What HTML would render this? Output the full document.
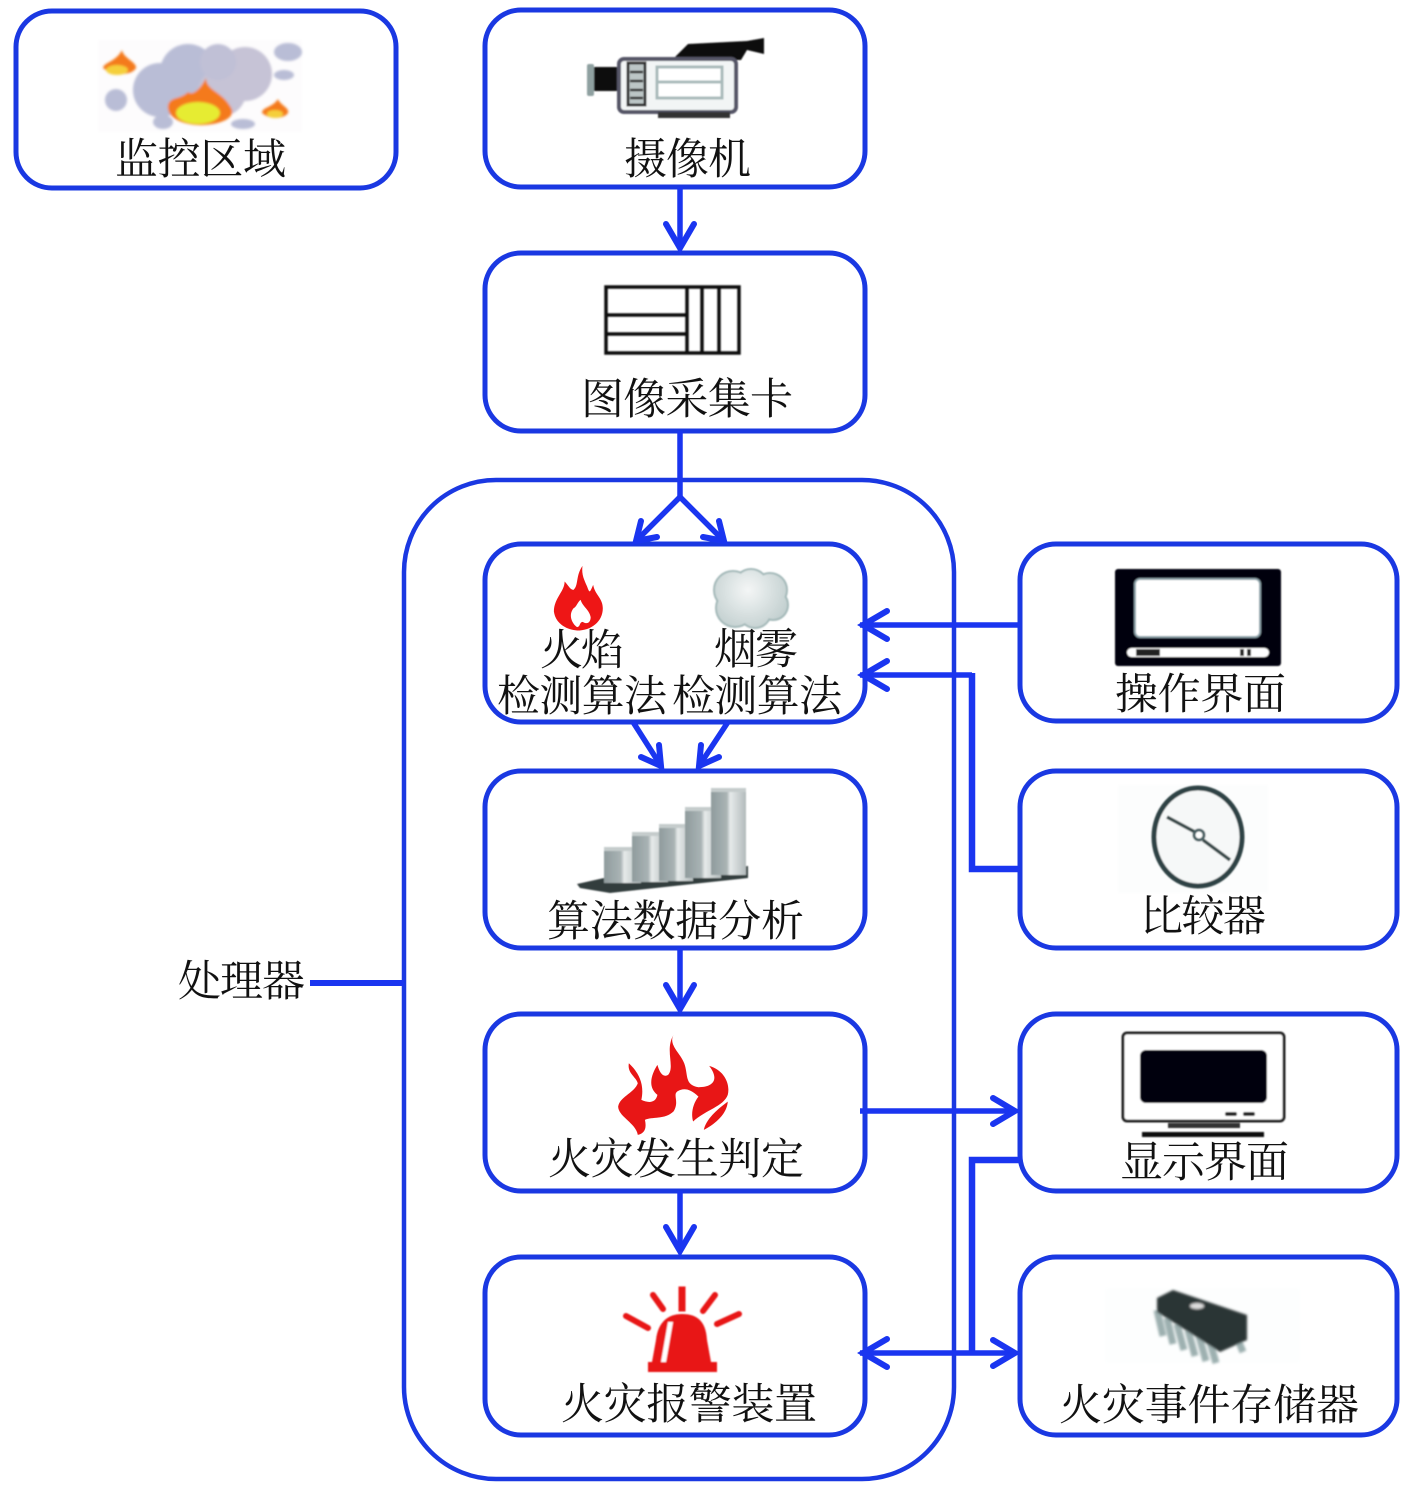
<!DOCTYPE html>
<html lang="zh">
<head>
<meta charset="utf-8">
<style>
html,body{margin:0;padding:0;background:#fff;width:1415px;height:1491px;overflow:hidden}
svg{display:block}
text{font-family:"Liberation Serif","Noto Serif CJK SC",serif;font-size:43px;fill:#111}
.b{fill:none;stroke:#1a38e2;stroke-width:5}
.o{fill:none;stroke:#1a38e2;stroke-width:4.5}
.l{fill:none;stroke:#1a35f0;stroke-width:5.5}
.t{fill:none;stroke:#1a35f0;stroke-width:6.5}
.h{fill:none;stroke:#1a35f0;stroke-width:6;stroke-linecap:round;stroke-linejoin:miter}
</style>
</head>
<body>
<svg width="1415" height="1491" viewBox="0 0 1415 1491" xmlns="http://www.w3.org/2000/svg">
<defs>
<filter id="s" x="-10%" y="-10%" width="120%" height="120%"><feGaussianBlur stdDeviation="0.7"/></filter>
<filter id="m" x="-20%" y="-20%" width="140%" height="140%"><feGaussianBlur stdDeviation="1.3"/></filter>
<linearGradient id="bar" x1="0" x2="1" y1="0" y2="0"><stop offset="0" stop-color="#8f9b9d"/><stop offset=".45" stop-color="#a9b3b4"/><stop offset=".55" stop-color="#e6eaea"/><stop offset="1" stop-color="#b2babb"/></linearGradient>
<radialGradient id="cl" gradientUnits="userSpaceOnUse" cx="748" cy="590" r="42"><stop offset="0" stop-color="#f4f6f6"/><stop offset="1" stop-color="#c3d0d0"/></radialGradient>
</defs>

<!-- boxes -->
<rect class="b" x="16" y="11" width="380" height="177" rx="36"/>
<rect class="b" x="485" y="10" width="380" height="177" rx="36"/>
<rect class="b" x="485" y="253" width="380" height="178" rx="36"/>
<rect class="o" x="404" y="480" width="550" height="999" rx="92"/>
<rect class="b" x="485" y="544" width="380" height="178" rx="36"/>
<rect class="b" x="485" y="771" width="380" height="177" rx="36"/>
<rect class="b" x="485" y="1014" width="380" height="177" rx="36"/>
<rect class="b" x="485" y="1257" width="380" height="178" rx="36"/>
<rect class="b" x="1020" y="544" width="377" height="177" rx="36"/>
<rect class="b" x="1020" y="771" width="377" height="177" rx="36"/>
<rect class="b" x="1020" y="1014" width="377" height="177" rx="36"/>
<rect class="b" x="1020" y="1257" width="377" height="178" rx="36"/>

<!-- connectors -->
<path class="l" d="M680 187V248"/>
<path class="h" d="M666 224L680 248L694 224"/>
<path class="l" d="M680 431V497"/>
<path class="l" d="M680 497L636 541M680 497L724 541"/>
<path class="h" d="M641 521L636 541L657 537M719 521L724 541L703 537"/>
<path class="l" d="M633 722L661 766M728 722L699 766"/>
<path class="h" d="M659 745L661 766L641 757M701 745L699 766L719 757"/>
<path class="l" d="M680 948V1009"/>
<path class="h" d="M666 985L680 1009L694 985"/>
<path class="l" d="M680 1191V1251"/>
<path class="h" d="M666 1227L680 1251L694 1227"/>
<path class="l" d="M860 625H1020"/>
<path class="h" d="M887 611L863 625L887 639"/>
<path class="l" d="M860 675H972"/>
<path class="h" d="M887 661L863 675L887 689"/>
<path class="t" d="M972 673V869H1020"/>
<path class="l" d="M860 1111H1014"/>
<path class="h" d="M993 1098L1015 1111L993 1124"/>
<path class="t" d="M1020 1160H972V1353"/>
<path class="l" d="M860 1353H1014"/>
<path class="h" d="M887 1339L863 1353L887 1367M993 1340L1015 1353L993 1366"/>
<path class="l" d="M310 983H404" style="stroke-width:6"/>

<!-- 监控区域 icon -->
<rect x="98" y="40" width="204" height="92" fill="#fdfcfd" filter="url(#m)"/>
<g filter="url(#m)">
<g fill="#b9bdd6">
<circle cx="188" cy="72" r="28"/><circle cx="160" cy="90" r="27"/><circle cx="195" cy="100" r="24"/>
<circle cx="245" cy="74" r="27" fill="#c6c3d6"/><circle cx="222" cy="92" r="24" fill="#c6c3d6"/>
<circle cx="218" cy="62" r="18" fill="#c0c0d6"/>
<ellipse cx="288" cy="52" rx="14" ry="9"/><ellipse cx="284" cy="75" rx="10" ry="5"/><ellipse cx="116" cy="100" rx="11" ry="11"/><circle cx="147" cy="107" r="3.5"/><ellipse cx="163" cy="122" rx="10" ry="7"/><ellipse cx="243" cy="124" rx="12" ry="5"/>
</g>
<path fill="#f47a1c" d="M206 78C206 90 222 92 230 106C238 116 224 124 204 125C184 126 166 118 168 105C171 96 180 100 188 92C192 96 200 90 206 78Z"/>
<ellipse cx="198" cy="113" rx="22" ry="11" fill="#e6ec30"/>
<path fill="#f47a1c" d="M122 50C123 58 137 62 136 68C132 76 112 76 103 68C104 62 116 62 122 50Z"/>
<ellipse cx="117" cy="70" rx="11" ry="5" fill="#f5cf3a"/>
<path fill="#f47a1c" d="M278 99C280 105 290 108 288 113C284 119 270 120 262 113C262 107 272 108 278 99Z"/>
<ellipse cx="275" cy="114" rx="8" ry="4" fill="#f5cf3a"/>
</g>

<!-- 摄像机 icon -->
<g filter="url(#s)">
<path fill="#111" d="M674 58L688 44L747 41L764 38V54L747 50L741 60H676Z"/>
<rect x="587" y="64" width="7" height="32" rx="2" fill="#8fa0a0"/>
<rect x="594" y="67" width="24" height="24" fill="#111"/>
<rect x="619" y="59" width="117" height="53" rx="5" fill="#f2f5f5" stroke="#556" stroke-width="4"/>
<rect x="628" y="63" width="17" height="42" fill="#bcc6c6" stroke="#333" stroke-width="3"/>
<path d="M630 72H643M630 81H643M630 90H643M630 98H643" stroke="#333" stroke-width="2.5"/>
<rect x="657" y="67" width="65" height="31" fill="#fff" stroke="#a8baba" stroke-width="3"/>
<path d="M657 82H722" stroke="#a8baba" stroke-width="3"/>
<rect x="658" y="112" width="72" height="6" fill="#333"/>
</g>

<!-- 图像采集卡 icon -->
<g fill="none" stroke="#111" stroke-width="3.5" filter="url(#s)">
<rect x="606" y="287" width="133" height="66"/>
<path d="M606 315H688M606 334H688M687 287V353M702 287V353M719 287V353"/>
</g>

<!-- 火焰 icon -->
<g transform="translate(470,470) scale(.357,.333)" filter="url(#s)">
<path fill="#ee1818" d="M315 288C295 320 305 345 290 360C280 360 275 345 265 335C265 365 235 385 235 425C240 465 275 480 300 482C340 482 372 455 372 415C372 385 350 375 345 345C335 370 335 370 328 350C320 330 312 315 315 288Z"/>
<path fill="#fff" d="M300 472C285 460 275 435 290 415C298 412 302 395 310 390C315 410 335 420 338 442C338 458 328 465 316 456C306 456 310 470 300 472Z"/>
</g>
<!-- 烟雾 icon -->
<g filter="url(#s)">
<g fill="#c6d3d3" stroke="#a5baba" stroke-width="4">
<circle cx="733" cy="590" r="18"/><circle cx="751" cy="586" r="16"/><circle cx="770" cy="590" r="16"/><circle cx="773" cy="605" r="14"/><circle cx="755" cy="612" r="15"/><circle cx="735" cy="608" r="18"/>
</g>
<g fill="url(#cl)">
<circle cx="733" cy="590" r="18"/><circle cx="751" cy="586" r="16"/><circle cx="770" cy="590" r="16"/><circle cx="773" cy="605" r="14"/><circle cx="755" cy="612" r="15"/><circle cx="735" cy="608" r="18"/><circle cx="752" cy="600" r="18"/>
</g>
</g>

<!-- 操作界面 icon -->
<g filter="url(#s)">
<rect x="1115" y="569" width="166" height="97" rx="3" fill="#05050f"/>
<rect x="1135" y="579" width="125" height="58" rx="5" fill="#fff" stroke="#8aa0a8" stroke-width="2"/>
<rect x="1127" y="648" width="142" height="9" rx="4.5" fill="#fff"/>
<rect x="1136" y="649" width="24" height="7" fill="#222"/>
<rect x="1240" y="649" width="4" height="7" fill="#222"/><rect x="1247" y="649" width="4" height="7" fill="#222"/>
</g>

<!-- 比较器 icon -->
<rect x="1118" y="785" width="150" height="108" fill="#fcfdfd" filter="url(#m)"/>
<g filter="url(#s)">
<ellipse cx="1198" cy="837" rx="44" ry="49" fill="#f6f8f8" stroke="#2f4245" stroke-width="5"/>
<path d="M1167 817L1195 832M1203 840L1230 860" stroke="#37484a" stroke-width="3.5" fill="none"/>
<circle cx="1199" cy="835" r="5" fill="#fff" stroke="#4a6064" stroke-width="3"/>
</g>

<!-- 算法数据分析 icon -->
<g filter="url(#s)">
<path fill="#333d3d" d="M577 884L604 878L748 866V878L610 893L580 888Z"/>
<rect x="604" y="847" width="37" height="36" fill="url(#bar)"/>
<rect x="604" y="847" width="37" height="4" fill="#c5cccc"/>
<rect x="632" y="832" width="36" height="50" fill="url(#bar)"/>
<rect x="632" y="832" width="36" height="4" fill="#c5cccc"/>
<rect x="659" y="824" width="34" height="57" fill="url(#bar)"/>
<rect x="659" y="824" width="34" height="4" fill="#c5cccc"/>
<rect x="685" y="807" width="36" height="71" fill="url(#bar)"/>
<rect x="685" y="807" width="36" height="4" fill="#c5cccc"/>
<rect x="711" y="788" width="35" height="87" fill="url(#bar)"/>
<rect x="711" y="788" width="35" height="4" fill="#c5cccc"/>
</g>

<!-- 火灾发生判定 icon -->
<g filter="url(#s)" fill="#e81414" transform="translate(470,1000) scale(.357,.333)">
<path d="M570 105C555 135 590 160 600 190C612 225 600 255 640 262C680 262 700 240 670 198C710 210 730 250 722 285C710 320 660 330 625 365C618 340 625 310 640 290C620 270 605 265 590 270C560 280 590 300 570 335C545 360 510 350 490 360C495 385 490 400 470 405C465 370 415 350 415 320C420 290 460 280 470 250C465 230 440 220 445 190C470 215 490 250 480 300C500 310 520 310 525 285C495 260 510 220 525 195C530 215 540 235 555 225C575 200 545 150 570 105Z"/>
<path d="M722 305C720 340 690 370 655 390C660 360 690 330 722 305Z"/>
</g>

<!-- 火灾报警装置 icon -->
<g filter="url(#s)" fill="#e81414">
<path d="M656 1340C658 1322 668 1314 682 1314C698 1314 706 1322 707 1340L711 1362H717V1372H648V1362H652Z"/>
<path d="M668 1322L661 1362H666L673 1322Z" fill="#fff"/>
<path d="M680 1288H684V1310H680Z" stroke="#e81414" stroke-width="3"/>
<path d="M653 1295L663 1309M715 1295L703 1311M626 1316L648 1328M739 1314L717 1324" stroke="#e81414" stroke-width="6" stroke-linecap="round" fill="none"/>
</g>

<!-- 显示界面 icon -->
<g filter="url(#s)">
<rect x="1123" y="1033" width="161" height="88" rx="4" fill="#fff" stroke="#222" stroke-width="3"/>
<rect x="1140" y="1050" width="127" height="53" rx="6" fill="#04040f"/>
<rect x="1225" y="1112" width="12" height="4" rx="2" fill="#222"/><rect x="1243" y="1112" width="12" height="4" rx="2" fill="#222"/>
<rect x="1168" y="1123" width="72" height="5" fill="#333"/>
<rect x="1142" y="1132" width="122" height="5" fill="#111"/>
</g>

<!-- 火灾事件存储器 icon -->
<rect x="1105" y="1288" width="195" height="75" fill="#fdfefe" filter="url(#m)"/>
<g filter="url(#m)">
<path d="M1157 1310L1163 1336M1167 1318L1173 1344M1177 1324L1184 1350M1188 1330L1195 1356M1199 1336L1206 1361M1210 1342L1216 1363M1238 1340L1243 1352" stroke="#9db0b0" stroke-width="7" fill="none"/>
<path d="M1157 1298L1173 1290L1247 1315V1340L1220 1352L1157 1312Z" fill="#2b3434"/>
<ellipse cx="1197" cy="1306" rx="7" ry="3" fill="#ddd"/>
</g>

<!-- labels -->
<text x="115" y="174" textLength="171">监控区域</text>
<text x="624" y="174" textLength="127">摄像机</text>
<text x="581" y="414" textLength="212">图像采集卡</text>
<text x="540" y="665" textLength="84">火焰</text>
<text x="714" y="664" textLength="84">烟雾</text>
<text x="497" y="711" textLength="170">检测算法</text>
<text x="672" y="711" textLength="170">检测算法</text>
<text x="547" y="936" textLength="257">算法数据分析</text>
<text x="548" y="1174" textLength="256">火灾发生判定</text>
<text x="561" y="1419" textLength="256">火灾报警装置</text>
<text x="1115" y="709" textLength="171">操作界面</text>
<text x="1140" y="931" textLength="126">比较器</text>
<text x="1120" y="1177" textLength="169">显示界面</text>
<text x="1059" y="1420" textLength="300">火灾事件存储器</text>
<text x="178" y="996" textLength="127">处理器</text>
</svg>
</body>
</html>
